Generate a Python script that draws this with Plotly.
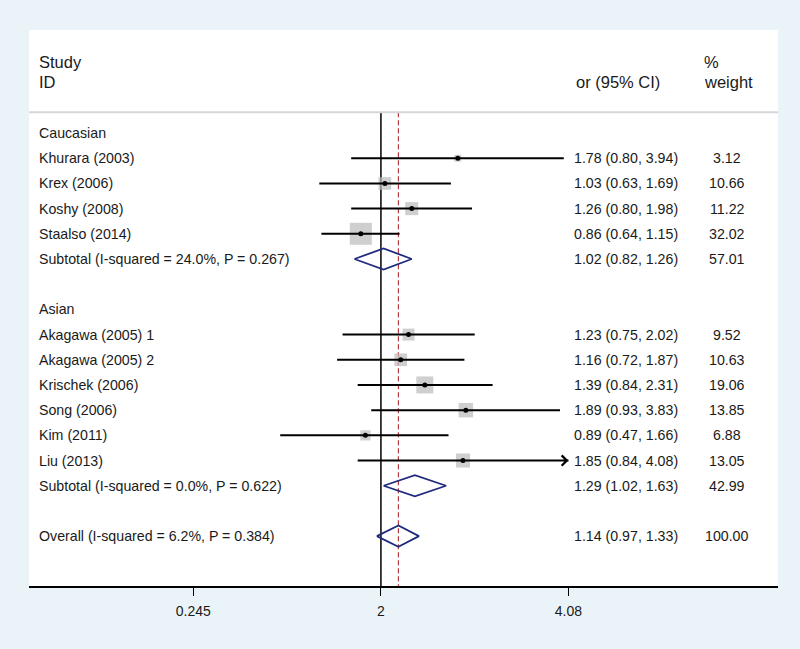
import math
import plotly.graph_objects as go

# ---------------- data ----------------
studies = ["Khurara (2003)", "Krex (2006)", "Koshy (2008)", "Staalso (2014)",
           "Akagawa (2005) 1", "Akagawa (2005) 2", "Krischek (2006)", "Song (2006)",
           "Kim (2011)", "Liu (2013)"]
or_est = [1.78, 1.03, 1.26, 0.86, 1.23, 1.16, 1.39, 1.89, 0.89, 1.85]
ci_lo = [0.80, 0.63, 0.80, 0.64, 0.75, 0.72, 0.84, 0.93, 0.47, 0.84]
ci_hi = [3.94, 1.69, 1.98, 1.15, 2.02, 1.87, 2.31, 3.83, 1.66, 4.08]
weights = [3.12, 10.66, 11.22, 32.02, 9.52, 10.63, 19.06, 13.85, 6.88, 13.05]
study_rows = [1, 2, 3, 4, 8, 9, 10, 11, 12, 13]

groups = ["Caucasian", "Asian"]
group_rows = [0, 7]

pooled_labels = ["Subtotal (I-squared = 24.0%, P = 0.267)",
                 "Subtotal (I-squared = 0.0%, P = 0.622)",
                 "Overall (I-squared = 6.2%, P = 0.384)"]
pooled_est = [1.02, 1.29, 1.14]
pooled_lo = [0.82, 1.02, 0.97]
pooled_hi = [1.26, 1.63, 1.33]
pooled_w = [57.01, 42.99, 100.00]
pooled_rows = [5, 14, 16]

overall_est = 1.14
null_value = 1

tick_vals = [0.245, 1, 4.08]
tick_text = ["0.245", "2", "4.08"]

headers_left = ["Study", "ID"]
header_or = "or (95% CI)"
header_w = ["%", "weight"]

# ---------------- layout constants ----------------
W, H = 800, 649
ML, MR, MT, MB = 29, 22, 30, 63
PW = W - ML - MR
PH = H - MT - MB
FONT = "Liberation Sans, Arial, Helvetica, sans-serif"
TXT = "#1a1a1a"
NAVY = "#1f2a7c"
RED = "#b83a44"
BOX = "#bababa"
BG = "#eaf3f7"

x_range = [-1.146, 1.293]      # log10 units
y_range = [17.98, -4.09]       # reversed rows
sep_row = -0.83
half_h = 0.42
BODY = 14.2
HEAD = 16.5


def px_x(p):
    return (p - ML) / PW


fig = go.Figure()

# null line and overall line
fig.add_trace(go.Scatter(x=[null_value, null_value], y=[sep_row, y_range[0]],
                         mode="lines", line=dict(color="black", width=1.5),
                         hoverinfo="skip", showlegend=False))
fig.add_trace(go.Scatter(x=[overall_est, overall_est], y=[sep_row, y_range[0]],
                         mode="lines", line=dict(color=RED, width=1.2, dash="5px,3px"),
                         hoverinfo="skip", showlegend=False))

# weight boxes
fig.add_trace(go.Scatter(x=or_est, y=study_rows, mode="markers",
                         marker=dict(symbol="square", color=BOX,
                                     size=[3.89 * math.sqrt(w) for w in weights],
                                     line=dict(width=0)),
                         hoverinfo="skip", showlegend=False))

# CI lines
for lo, hi, r in zip(ci_lo, ci_hi, study_rows):
    fig.add_trace(go.Scatter(x=[lo, hi], y=[r, r], mode="lines",
                             line=dict(color="black", width=2),
                             hoverinfo="skip", showlegend=False))

# point estimates
fig.add_trace(go.Scatter(x=or_est, y=study_rows, mode="markers",
                         marker=dict(symbol="circle", color="black", size=5),
                         hoverinfo="skip", showlegend=False))

# diamonds
for e, lo, hi, r in zip(pooled_est, pooled_lo, pooled_hi, pooled_rows):
    fig.add_trace(go.Scatter(x=[lo, e, hi, e, lo],
                             y=[r, r - half_h, r, r + half_h, r],
                             mode="lines", line=dict(color=NAVY, width=1.8),
                             hoverinfo="skip", showlegend=False))

annotations = []

# arrow for truncated CI (Liu)
i_liu = studies.index("Liu (2013)")
annotations.append(dict(x=math.log10(ci_hi[i_liu]), y=study_rows[i_liu],
                        ax=math.log10(ci_hi[i_liu]) - 0.02, ay=study_rows[i_liu],
                        xref="x", yref="y", axref="x", ayref="y",
                        text="", showarrow=True, arrowhead=4, arrowsize=1.0,
                        arrowwidth=2, arrowcolor="black", standoff=0))


def txt(text, xp, row, anchor, size=BODY):
    annotations.append(dict(x=px_x(xp), y=row, xref="paper", yref="y",
                            text=text, showarrow=False, xanchor=anchor,
                            yanchor="middle",
                            font=dict(family=FONT, size=size, color=TXT)))


# headers
txt(headers_left[0], 37, -2.82, "left", HEAD)
txt(headers_left[1], 37, -2.02, "left", HEAD)
txt(header_or, 574, -2.02, "left", HEAD)
txt(header_w[0], 702, -2.82, "left", HEAD)
txt(header_w[1], 702, -2.02, "left", HEAD)

for g, r in zip(groups, group_rows):
    txt(g, 37, r, "left")

for s, e, lo, hi, w, r in zip(studies, or_est, ci_lo, ci_hi, weights, study_rows):
    txt(s, 37, r, "left")
    txt(f"{e:.2f} ({lo:.2f}, {hi:.2f})", 680, r, "right")
    txt(f"{w:.2f}", 727, r, "center")

for s, e, lo, hi, w, r in zip(pooled_labels, pooled_est, pooled_lo, pooled_hi, pooled_w, pooled_rows):
    txt(s, 37, r, "left")
    txt(f"{e:.2f} ({lo:.2f}, {hi:.2f})", 680, r, "right")
    txt(f"{w:.2f}", 727, r, "center")

shapes = [
    dict(type="line", xref="paper", yref="y", x0=0, x1=1, y0=sep_row, y1=sep_row,
         line=dict(color="#d3d7da", width=2)),
]

fig.update_layout(
    width=W, height=H,
    margin=dict(l=ML, r=MR, t=MT, b=MB, pad=0),
    paper_bgcolor=BG, plot_bgcolor="white",
    showlegend=False,
    annotations=annotations, shapes=shapes,
    xaxis=dict(type="log", range=x_range, showgrid=False, zeroline=False,
               showline=True, linecolor="black", linewidth=1.5,
               ticks="outside", ticklen=8, tickwidth=1, tickcolor="black",
               tickvals=tick_vals, ticktext=tick_text, ticklabelstandoff=3,
               tickfont=dict(family=FONT, size=14, color=TXT),
               fixedrange=True),
    yaxis=dict(range=y_range, visible=False, fixedrange=True),
)

fig.write_html("out.html",
               config={"displayModeBar": False},
               post_script="document.body.style.margin='0';"
                           "document.body.style.background='%s';" % BG)
